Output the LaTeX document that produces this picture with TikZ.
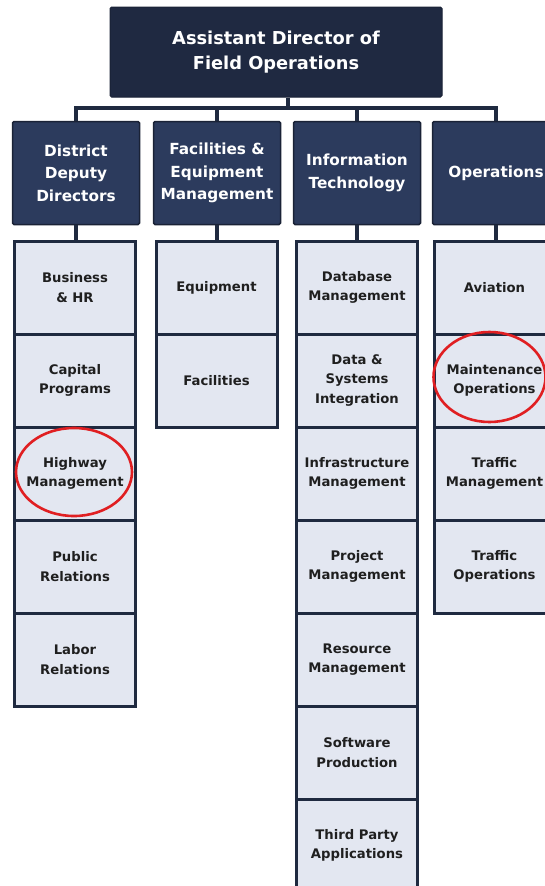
\documentclass[tikz,border=0pt]{standalone}
\usepackage{fontspec}
\setmainfont{DejaVu Sans}
\definecolor{topfill}{HTML}{1F2941}
\definecolor{headfill}{HTML}{2C3B5D}
\definecolor{headline}{HTML}{1A2236}
\definecolor{childfill}{HTML}{E3E7F1}
\definecolor{navy}{HTML}{1F2A40}
\definecolor{ringred}{HTML}{E01F22}
\begin{document}
\begin{tikzpicture}[x=1pt,y=-1pt,
  topbox/.style={fill=topfill,draw=headline,line width=1pt,rounded corners=1.5pt,
    minimum width=332pt,minimum height=90pt,inner sep=0pt,align=center,text=white,
    font=\fontsize{17.8}{25}\selectfont\bfseries},
  headbox/.style={fill=headfill,draw=headline,line width=1.5pt,rounded corners=1.5pt,
    minimum width=127pt,minimum height=103pt,inner sep=0pt,align=center,text=white,
    font=\fontsize{15.3}{22.5}\selectfont\bfseries},
  childbox/.style={fill=childfill,draw=navy,line width=3pt,
    minimum width=121pt,minimum height=93pt,inner sep=0pt,align=center,text=black!88,
    font=\fontsize{13.2}{19.5}\selectfont\bfseries},
  conn/.style={draw=navy,line width=4pt},
  ring/.style={draw=ringred,line width=2.6pt}]
\useasboundingbox[fill=white] (0,0) rectangle (545,886);
\clip (0,0) rectangle (545,886);
% top
\node[topbox] (top) at (276,52) {Assistant Director of\\Field Operations};
% headers
\node[headbox] (h1) at (76,173) {District\\Deputy\\Directors};
\node[headbox] (h2) at (217,173) {Facilities \&\\Equipment\\Management};
\node[headbox] (h3) at (357,173) {Information\\Technology};
\node[headbox] (h4) at (496,173) {Operations};
% bus
\coordinate (stem) at (288,108);
\draw[conn] (top.south -| stem) -- (stem);
\draw[conn,line join=miter] (h1.north) -- (h1.north |- stem) -- (h4.north |- stem) -- (h4.north);
\draw[conn] (h2.north) -- (h2.north |- stem);
\draw[conn] (h3.north) -- (h3.north |- stem);
% column 1
\node[childbox] (c1a) at (75,287.5) {Business\\\& HR};
\node[childbox] (c1b) at (75,380.5) {Capital\\Programs};
\node[childbox] (c1c) at (75,473.5) {Highway\\Management};
\node[childbox] (c1d) at (75,566.5) {Public\\Relations};
\node[childbox] (c1e) at (75,659.5) {Labor\\Relations};
% column 2
\node[childbox] (c2a) at (216.5,287.5) {Equipment};
\node[childbox] (c2b) at (216.5,380.5) {Facilities};
% column 3
\node[childbox] (c3a) at (357,287.5) {Database\\Management};
\node[childbox] (c3b) at (357,380.5) {Data \&\\Systems\\Integration};
\node[childbox] (c3c) at (357,473.5) {Infrastructure\\Management};
\node[childbox] (c3d) at (357,566.5) {Project\\Management};
\node[childbox] (c3e) at (357,659.5) {Resource\\Management};
\node[childbox] (c3f) at (357,752.5) {Software\\Production};
\node[childbox] (c3g) at (357,845.5) {Third Party\\Applications};
% column 4
\node[childbox] (c4a) at (494.5,287.5) {Aviation};
\node[childbox] (c4b) at (494.5,380.5) {Maintenance\\Operations};
\node[childbox] (c4c) at (494.5,473.5) {Traffic\\Management};
\node[childbox] (c4d) at (494.5,566.5) {Traffic\\Operations};
% header to children
\draw[conn] (h1.south) -- (h1.south |- c1a.north);
\draw[conn] (h2.south) -- (h2.south |- c2a.north);
\draw[conn] (h3.south) -- (h3.south |- c3a.north);
\draw[conn] (h4.south) -- (h4.south |- c4a.north);
% highlights
\draw[ring] (c1c.center) ++(-1,-1.5) ellipse [x radius=58pt, y radius=44pt];
\draw[ring] (c4b.center) ++(-5,-3.5) ellipse [x radius=56pt, y radius=45pt];
\end{tikzpicture}
\end{document}
